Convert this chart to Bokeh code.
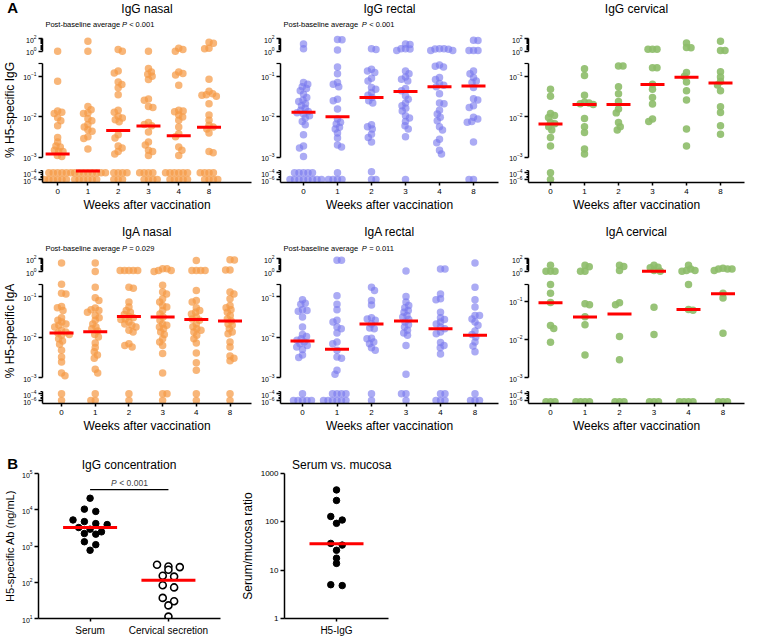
import numpy as np
from bokeh.plotting import figure
from bokeh.layouts import row, column
from bokeh.models import Range1d, FixedTicker, Label, PrintfTickFormatter, LogTickFormatter
from bokeh.core.properties import value
from bokeh.embed import file_html
from bokeh.resources import INLINE

FONT = "Liberation Sans"
weeks = ["0", "1", "2", "3", "4", "8"]

# ---------------- data (% H5-specific, one list per week) ----------------
igg_nasal = [
    [1.0, 0.075, 0.014, 0.013, 0.012, 0.0095, 0.008, 0.006, 0.0031, 0.0024, 0.0019, 0.0018, 0.0015, 0.0014, 0.0014, 0.0011, 0.00105,
     1e-4, 1e-4, 1e-4, 1e-4, 1e-4, 1e-4, 1e-6, 1e-6, 1e-6, 1e-6, 1e-6, 1e-6],
    [42, 1.0, 0.018, 0.015, 0.0125, 0.012, 0.009, 0.008, 0.0065, 0.0056, 0.0048, 0.0044, 0.0032, 0.0029, 0.0016,
     1e-4, 1e-4, 1e-4, 1e-4, 1e-4, 1e-4, 1e-4, 1e-4, 1e-6, 1e-6, 1e-6, 1e-6, 1e-6, 1e-6],
    [1.9, 1.0, 0.135, 0.12, 0.072, 0.063, 0.052, 0.035, 0.0145, 0.013, 0.0103, 0.0094, 0.0085, 0.0075, 0.0036, 0.003, 0.0019, 0.0017, 0.0014, 0.0012,
     1e-4, 1e-4, 1e-4, 1e-4, 1e-6, 1e-6, 1e-6],
    [1.0, 0.155, 0.128, 0.112, 0.1, 0.083, 0.0275, 0.0255, 0.018, 0.017, 0.0072, 0.0065, 0.006, 0.0042, 0.0024, 0.002, 0.0015, 0.0014, 0.0011,
     1e-4, 1e-4, 1e-4, 1e-4, 1e-6, 1e-6, 1e-6, 1e-6],
    [3.0, 1.8, 1.0, 0.128, 0.117, 0.107, 0.06, 0.0145, 0.014, 0.0133, 0.011, 0.0099, 0.0082, 0.0056, 0.0038, 0.0032, 0.0018, 0.0015, 0.0011,
     1e-4, 1e-4, 1e-4, 1e-4, 1e-4, 1e-4, 1e-6, 1e-6, 1e-6, 1e-6, 1e-6],
    [29, 20, 3.0, 2.4, 0.084, 0.043, 0.037, 0.035, 0.034, 0.032, 0.021, 0.011, 0.0082, 0.0062, 0.0056, 0.005, 0.004, 0.0014, 0.0013,
     1e-4, 1e-4, 1e-4, 1e-4, 1e-6, 1e-6, 1e-6, 1e-6],
]
igg_nasal_median = [0.0012, 3.5e-4, 0.0046, 0.0059, 0.0034, 0.0055]

igg_rectal = [
    [15, 2.4, 0.07, 0.064, 0.055, 0.05, 0.044, 0.036, 0.03, 0.026, 0.024, 0.021, 0.0187, 0.0163, 0.0146, 0.0135, 0.0126, 0.0117, 0.0106,
     0.0093, 0.0077, 0.0064, 0.0036, 0.0019, 0.0017, 0.00104, 1e-4, 1e-4, 1e-4, 1e-4, 1e-4, 1e-6, 1e-6, 1e-6, 1e-6, 1e-6, 1e-6, 1e-6, 1e-6],
    [78, 70, 1.5, 0.17, 0.116, 0.07, 0.064, 0.055, 0.027, 0.025, 0.0155, 0.0088, 0.0073, 0.0066, 0.0055, 0.005, 0.004, 0.003, 0.002, 0.0018,
     1e-4, 1e-6, 1e-6, 1e-6, 1e-6],
    [2.4, 1.9, 0.15, 0.135, 0.125, 0.09, 0.077, 0.053, 0.048, 0.04, 0.034, 0.03, 0.025, 0.022, 0.0064, 0.0057, 0.005, 0.0037, 0.0031, 0.0024,
     2e-4, 1e-6, 1e-6],
    [15, 12, 2.4, 2.2, 2.6, 1.3, 0.135, 0.116, 0.096, 0.085, 0.077, 0.05, 0.044, 0.033, 0.027, 0.022, 0.0187, 0.0163, 0.014, 0.0106, 0.0093,
     0.0077, 0.006, 0.005, 0.0032, 1e-6],
    [2.4, 2.2, 2.6, 2.0, 1.3, 1.3, 0.19, 0.178, 0.17, 0.094, 0.083, 0.066, 0.06, 0.055, 0.037, 0.022, 0.021, 0.0146, 0.0117, 0.0097, 0.008,
     0.0057, 0.0047, 0.0028, 0.0023, 0.0015, 0.0012],
    [60, 55, 1.3, 1.3, 1.3, 0.135, 0.116, 0.094, 0.077, 0.07, 0.053, 0.028, 0.026, 0.0187, 0.017, 0.0097, 0.0088, 0.0077, 0.0073, 0.0024,
     1e-6, 1e-6],
]
igg_rectal_median = [0.013, 0.01, 0.03, 0.042, 0.055, 0.058]

igg_cervical = [
    [0.048, 0.032, 0.012, 0.0107, 0.0096, 0.0072, 0.0067, 0.0057, 0.0047, 0.0031, 0.0019, 1e-4, 1e-6],
    [0.154, 0.104, 0.034, 0.023, 0.022, 0.021, 0.02, 0.0091, 0.0057, 0.0041, 0.0016, 0.0012],
    [0.18, 0.18, 0.055, 0.037, 0.024, 0.0155, 0.0125, 0.0072, 0.0057, 0.0047],
    [2.0, 2.0, 2.0, 0.162, 0.162, 0.064, 0.048, 0.03, 0.0206, 0.0088, 0.0077],
    [22, 3.5, 4.0, 0.125, 0.1, 0.072, 0.044, 0.026, 0.005, 0.0019],
    [40, 1.25, 1.25, 0.13, 0.096, 0.074, 0.061, 0.044, 0.0176, 0.0128, 0.006, 0.0037],
]
igg_cervical_median = [0.0066, 0.02, 0.02, 0.063, 0.095, 0.068]

iga_nasal = [
    [21, 0.2, 0.12, 0.116, 0.057, 0.053, 0.045, 0.03, 0.026, 0.0233, 0.021, 0.0194, 0.0177, 0.0146, 0.0133, 0.0126, 0.0116, 0.011, 0.0091,
     0.008, 0.0066, 0.0047, 0.0032, 0.0024, 0.0013, 0.0011, 1e-4, 1e-6],
    [21, 1.0, 0.17, 0.093, 0.08, 0.052, 0.047, 0.045, 0.041, 0.034, 0.03, 0.026, 0.021, 0.0177, 0.016, 0.014, 0.0116, 0.01, 0.0071, 0.0055,
     0.0043, 0.0036, 0.003, 0.0016, 0.0013, 1e-4, 1e-6, 1e-6],
    [1.4, 1.4, 1.4, 1.4, 1.4, 0.17, 0.16, 0.073, 0.055, 0.045, 0.041, 0.036, 0.032, 0.03, 0.028, 0.027, 0.0233, 0.021, 0.0194, 0.0177,
     0.0146, 0.0133, 0.0068, 0.0062, 0.0057, 1e-4, 1e-6],
    [2.6, 2.6, 1.4, 1.4, 1.0, 0.19, 0.13, 0.116, 0.088, 0.073, 0.06, 0.055, 0.045, 0.037, 0.031, 0.026, 0.021, 0.0194, 0.0177, 0.016,
     0.0133, 0.0116, 0.0091, 0.0075, 0.0062, 0.0039, 0.0013, 1e-4, 1e-4, 1e-6],
    [55, 1.4, 1.4, 1.4, 1.4, 0.14, 0.08, 0.073, 0.053, 0.045, 0.041, 0.037, 0.031, 0.028, 0.026, 0.021, 0.018, 0.016, 0.0146, 0.0133,
     0.011, 0.0091, 0.0071, 0.004, 0.0023, 0.0015, 1e-4, 1e-6],
    [70, 65, 1.8, 1.8, 0.13, 0.116, 0.088, 0.06, 0.053, 0.047, 0.041, 0.034, 0.028, 0.025, 0.021, 0.0194, 0.016, 0.0133, 0.012, 0.0075,
     0.0057, 0.0034, 0.003, 0.0026, 1e-4, 1e-6],
]
iga_nasal_median = [0.0125, 0.0135, 0.032, 0.031, 0.027, 0.025]

iga_rectal = [
    [0.083, 0.068, 0.064, 0.047, 0.045, 0.043, 0.031, 0.0177, 0.0116, 0.0103, 0.0091, 0.0083, 0.0075, 0.0068, 0.0062, 0.0057, 0.0049,
     0.0036, 0.0031, 1e-4, 1e-6, 1e-6, 1e-6, 1e-6, 1e-6],
    [60, 60, 0.105, 0.064, 0.047, 0.026, 0.0233, 0.0177, 0.016, 0.0126, 0.0075, 0.0068, 0.0047, 0.0032, 0.003, 0.0015, 0.0012,
     1e-4, 1e-4, 1e-4, 1e-4, 1e-6, 1e-6, 1e-6, 1e-6, 1e-6, 1e-6],
    [0.17, 0.14, 0.08, 0.062, 0.03, 0.028, 0.026, 0.021, 0.0166, 0.016, 0.0093, 0.0091, 0.0075, 0.0068, 0.0054, 0.0047, 1e-4, 1e-6],
    [1.2, 0.1, 0.073, 0.06, 0.053, 0.045, 0.041, 0.034, 0.031, 0.027, 0.0233, 0.02, 0.0177, 0.0146, 0.0126, 0.011, 0.0062, 0.0012,
     1e-4, 1e-4, 1e-6],
    [2.4, 2.4, 0.116, 0.088, 0.083, 0.041, 0.03, 0.027, 0.0233, 0.021, 0.0177, 0.016, 0.0133, 0.0121, 0.0073, 0.0062, 0.0054, 0.0038,
     1e-4, 1e-4, 1e-6, 1e-6, 1e-6],
    [22, 0.17, 0.083, 0.055, 0.034, 0.034, 0.028, 0.0233, 0.0194, 0.014, 0.0116, 0.01, 0.0075, 0.006, 0.0043, 1e-4, 1e-6, 1e-6, 1e-6],
]
iga_rectal_median = [0.008, 0.005, 0.021, 0.025, 0.016, 0.011]

iga_cervical = [
    [10, 1.1, 1.1, 1.1, 0.27, 0.16, 0.092, 0.023, 0.019, 0.0084, 4e-7, 4e-7, 4e-7],
    [10, 5.6, 1.1, 1.1, 0.085, 0.08, 0.039, 0.024, 0.0039, 4e-7, 4e-7, 4e-7, 4e-7],
    [10, 6.3, 1.4, 0.09, 0.08, 0.0118, 0.0029, 4e-7, 4e-7, 4e-7],
    [10, 4.5, 4.0, 1.4, 1.1, 0.069, 0.0133, 4e-7, 4e-7, 4e-7],
    [10, 2.5, 1.4, 1.4, 1.1, 0.27, 0.06, 0.057, 4e-7, 4e-7, 4e-7, 4e-7],
    [3.2, 2.5, 2.5, 2.5, 1.4, 0.16, 0.12, 0.0144, 4e-7, 4e-7, 4e-7],
]
iga_cervical_median = [0.09, 0.038, 0.046, 1.1, 0.06, 0.155]

# Panel B
conc_groups = ["Serum", "Cervical secretion"]
serum_igg = [20800, 10400, 9000, 5230, 4710, 4150, 3900, 3230, 2910, 2460, 2210, 2120, 1310, 1090, 762]
cervical_igg = [303, 273, 262, 221, 151, 143, 83, 72, 37, 30, 23, 11.3]
conc_median = [3230, 113]
ratio_group = ["H5-IgG"]
ratio = [457, 277, 129, 109, 93, 35.8, 33, 25.8, 17.7, 13.8, 5.0, 4.8]
ratio_median = [35]

ORANGE, BLUE, GREEN = "#F59A45", "#7878EE", "#8DBC69"
RED = "#FF0000"

# ---------------- geometry (layout pixels, origin at top of the layout) ----------------
ROWS = [
    dict(top=(0, 30, 56), top_b=(38.3, 50.7), main=(56, 163), main_ax=(75.8, 156.8, 63),
         bot=(163, 182, 218), bot_b=(170, 182), title_y=8, sub_y=24),
    dict(top=(218, 250, 277), top_b=(258.3, 271), main=(277, 384), main_ax=(296, 377, 284),
         bot=(384, 403, 440), bot_b=(391, 403), title_y=231, sub_y=248),
]
# page x: (canvas left, canvas right, frame left, frame right)
COLS = [(8, 262, 45, 259), (262, 508, 288, 506), (508, 756, 536, 752)]


def seg_map(v1, y1, v2, y2):
    l1, l2 = np.log10(v1), np.log10(v2)
    k = (y2 - y1) / (l2 - l1)

    def fwd(v):
        return y1 + (np.log10(v) - l1) * k

    def inv(y):
        return 10 ** (l1 + (y - y1) / k)
    return fwd, inv


def seg_of(v):
    if v >= 0.5:
        return "top"
    if v >= 6e-4:
        return "main"
    return "bot"


def swarm(pys, min_d, step=0.25, max_off=30):
    n = len(pys)
    order = sorted(range(n), key=lambda i: (pys[i], i))
    placed, offs, flip = [], [0.0] * n, 1
    for i in order:
        y = pys[i]
        near = [(a, b) for a, b in placed if abs(b - y) < min_d]
        k, ok = 0, None
        while ok is None and k * step <= max_off:
            cands = [0.0] if k == 0 else [flip * k * step, -flip * k * step]
            for c in cands:
                if all((c - a) ** 2 + (y - b) ** 2 >= min_d ** 2 for a, b in near):
                    ok = c
                    break
            k += 1
        ok = 0.0 if ok is None else ok
        if ok != 0:
            flip = -flip
        offs[i] = ok
        placed.append((ok, y))
    return offs


def rows_layout(pys, spacing, bin_h):
    n = len(pys)
    order = sorted(range(n), key=lambda i: pys[i])
    groups, cur, start = [], [], None
    for i in order:
        if cur and pys[i] - start >= bin_h:
            groups.append(cur)
            cur = []
        if not cur:
            start = pys[i]
        cur.append(i)
    if cur:
        groups.append(cur)
    offs = [0.0] * n
    for g in groups:
        m = len(g)
        for j, i in enumerate(g):
            offs[i] = (j - (m - 1) / 2) * spacing
    return offs


def new_fig(width, height, xr, yr, mbl, mbr, mbt, mbb, x_axis=True):
    p = figure(width=width, height=height, x_range=Range1d(*xr), y_range=Range1d(*yr),
               y_axis_type="log", x_axis_location="below" if x_axis else None,
               output_backend="svg", toolbar_location=None, title=None,
               min_border_left=mbl, min_border_right=mbr, min_border_top=mbt, min_border_bottom=mbb)
    p.outline_line_color = None
    p.xgrid.visible = False
    p.ygrid.visible = False
    p.background_fill_color = "white"
    p.border_fill_color = "white"
    return p


def style_axis(ax, size="7px"):
    ax.axis_line_width = 1.5
    ax.axis_line_color = "black"
    ax.major_tick_line_width = 1.5
    ax.major_tick_line_color = "black"
    ax.minor_tick_line_width = 1.2
    ax.minor_tick_line_color = "black"
    ax.major_tick_in = 0
    ax.major_tick_out = 4
    ax.minor_tick_in = 0
    ax.minor_tick_out = 2
    ax.major_label_text_font = FONT
    ax.major_label_text_font_size = size
    ax.major_label_text_color = "black"
    ax.major_label_standoff = 2
    ax.axis_label_text_font = FONT
    ax.axis_label_text_font_style = "normal"
    ax.axis_label_text_color = "black"
    ax.axis_label_standoff = 3


def add_text(p, x, y, text, size, align="left", style="normal"):
    # text drawn at overlay level so it may sit outside the plotting frame
    p.text(x=[x], y=[y], text=[text], text_font=value(FONT), text_font_size=value(size),
           text_font_style=value(style), text_align=value(align), text_baseline=value("middle"),
           text_color="black", level="overlay")


def make_panel(cfg):
    rg = ROWS[cfg["row"]]
    left, right, fl, fr = COLS[cfg["col"]]
    W, mbl, mbr = right - left, fl - left, right - fr
    sp, pos0 = cfg["sp"], cfg["pos0"]
    xr = (-(pos0 - fl) / sp, (fr - pos0) / sp)

    def xd(page_x):
        return xr[0] + (page_x - fl) / sp

    top_fwd, top_inv = seg_map(100, rg["top_b"][0], 1, rg["top_b"][1])
    m1, m3, mtop = cfg.get("main_ax", rg["main_ax"])
    main_fwd, main_inv = seg_map(0.1, m1, 1e-3, m3)
    main_cap = main_inv(mtop)
    bot_fwd, bot_inv = seg_map(10 ** -3.3, rg["bot_b"][0], 10 ** -6.9, rg["bot_b"][1])
    fwd = {"top": top_fwd, "main": main_fwd, "bot": bot_fwd}

    c0, f0, f1 = rg["top"]
    top = new_fig(W, f1 - c0, xr, (top_inv(f1), top_inv(f0)), mbl, mbr, f0 - c0, 0, x_axis=False)
    a = top.yaxis[0]
    style_axis(a)
    a.ticker = FixedTicker(ticks=[1, 100], minor_ticks=[2, 3, 4, 5, 6, 7, 8, 9, 20, 30, 40, 50, 60, 70, 80, 90])
    a.formatter = LogTickFormatter()
    a.bounds = (1, 100)

    g0, g1 = rg["main"]
    main = new_fig(W, g1 - g0, xr, (main_inv(g1), main_inv(g0)), mbl, mbr, 0, 0, x_axis=False)
    a = main.yaxis[0]
    style_axis(a)
    a.ticker = FixedTicker(ticks=[1e-3, 1e-2, 1e-1], minor_ticks=[main_cap * 0.995])
    a.minor_tick_out = 4
    a.formatter = LogTickFormatter()
    a.bounds = (1e-3, main_cap)
    if cfg.get("ylabel"):
        a.axis_label = cfg["ylabel"]
        a.axis_label_text_font_size = "12px"

    h0, h1, h2 = rg["bot"]
    bcap = 10 ** -3.3
    bot = new_fig(W, h2 - h0, xr, (bot_inv(h1), bot_inv(h0)), mbl, mbr, 0, h2 - h1, x_axis=True)
    a = bot.yaxis[0]
    style_axis(a)
    a.ticker = FixedTicker(ticks=[1e-6, 1e-4], minor_ticks=[bcap * 0.99, 1e-5, 3e-6, 3e-5])
    a.formatter = LogTickFormatter()
    a.bounds = (bot_inv(h1), bcap)
    xa = bot.xaxis[0]
    style_axis(xa, "8px")
    xa.ticker = FixedTicker(ticks=list(range(len(weeks))))
    xa.major_label_overrides = {i: w for i, w in enumerate(weeks)}
    xa.major_tick_out = 3
    xa.major_label_standoff = 3
    xa.axis_label = "Weeks after vaccination"
    xa.axis_label_text_font_size = "12px"
    xa.axis_label_standoff = 1

    figs = {"top": top, "main": main, "bot": bot}
    xs = {k: [] for k in figs}
    ys = {k: [] for k in figs}
    for i, vals in enumerate(cfg["data"]):
        segs = [seg_of(v) for v in vals]
        pys = [fwd[s](v) for s, v in zip(segs, vals)]
        offs = swarm(pys, 4.4)
        for v, s, o in zip(vals, segs, offs):
            xs[s].append(i + o / sp)
            ys[s].append(v)
    mx = {k: [] for k in figs}
    my = {k: [] for k in figs}
    for i, m in enumerate(cfg["med"]):
        s = seg_of(m)
        mx[s].append(i)
        my[s].append(m)
    for k, p in figs.items():
        p.scatter(xs[k], ys[k], size=7.5, fill_color=cfg["color"], fill_alpha=cfg["alpha"], line_color=None)
        p.scatter(mx[k], my[k], marker="dash", size=24, line_color=RED, line_width=3)

    add_text(top, xd((fl + fr) / 2), top_inv(rg["title_y"]), cfg["title"], "12px", align="center")
    if cfg.get("pval"):
        ysub = top_inv(rg["sub_y"])
        add_text(top, xd(fl + 3), ysub, "Post-baseline average", "7.5px")
        add_text(top, xd(fl + 3 + 78.3), ysub, "P", "7.5px", style="italic")
        add_text(top, xd(fl + 3 + 78.3 + 5.2 + 2.2), ysub, cfg["pval"], "7.5px")
    if cfg.get("letter"):
        add_text(top, xd(9), top_inv(rg["title_y"] - 1), cfg["letter"], "15px", style="bold")
    return column(top, main, bot)


panels = [
    dict(data=igg_nasal, med=igg_nasal_median, color=ORANGE, alpha=0.72, title="IgG nasal", pval="< 0.001",
         row=0, col=0, pos0=60.5, sp=31, ylabel="% H5-specific IgG", letter="A"),
    dict(data=igg_rectal, med=igg_rectal_median, color=BLUE, alpha=0.62, title="IgG rectal", pval="< 0.001",
         row=0, col=1, pos0=311, sp=34),
    dict(data=igg_cervical, med=igg_cervical_median, color=GREEN, alpha=0.9, title="IgG cervical",
         row=0, col=2, pos0=558, sp=34),
    dict(data=iga_nasal, med=iga_nasal_median, color=ORANGE, alpha=0.72, title="IgA nasal", pval="= 0.029",
         row=1, col=0, pos0=64.5, sp=34.5, ylabel="% H5-specific IgA"),
    dict(data=iga_rectal, med=iga_rectal_median, color=BLUE, alpha=0.62, title="IgA rectal", pval="= 0.011",
         row=1, col=1, pos0=310, sp=34.5),
    dict(data=iga_cervical, med=iga_cervical_median, color=GREEN, alpha=0.9, title="IgA cervical",
         row=1, col=2, pos0=558, sp=34.5, main_ax=(300.5, 377, 284)),
]
cols_built = [make_panel(c) for c in panels]
rowA1 = row(*cols_built[:3])
rowA2 = row(*cols_built[3:])

# ---------------- Panel B ----------------
B_TOP, B_F0, B_F1, B_BOT = 440, 473, 619, 638


def b_fig(left, right, fl, fr, xr, yr):
    p = new_fig(right - left, B_BOT - B_TOP, xr, yr, fl - left, right - fr, B_F0 - B_TOP, B_BOT - B_F1)
    style_axis(p.yaxis[0])
    style_axis(p.xaxis[0], "10px")
    p.xaxis[0].major_tick_out = 3
    p.xaxis[0].major_label_standoff = 3
    return p


# B1: IgG concentration
b1_sp = 80.5
b1_fl = 41
b1_xr = (-(94 - b1_fl) / b1_sp, (228 - 94) / b1_sp)
b1 = b_fig(8, 245, b1_fl, 228, b1_xr, (10, 1e5))
ya = b1.yaxis[0]
ya.ticker = FixedTicker(ticks=[10, 100, 1000, 1e4, 1e5])
ya.formatter = LogTickFormatter()
ya.axis_label = "H5-specific Ab (ng/mL)"
ya.axis_label_text_font_size = "11px"
b1.xaxis[0].ticker = FixedTicker(ticks=[0, 1])
b1.xaxis[0].major_label_overrides = {0: conc_groups[0], 1: conc_groups[1]}
b1_fwd, b1_inv = seg_map(1e5, B_F0, 10, B_F1)
for gi, vals in enumerate([serum_igg, cervical_igg]):
    offs = rows_layout([b1_fwd(v) for v in vals], 11.7, 5)
    xs = [gi + o / b1_sp for o in offs]
    if gi == 0:
        b1.scatter(xs, vals, size=6.5, fill_color="black", line_color="black")
    else:
        b1.scatter(xs, vals, size=7, fill_color="white", line_color="black", line_width=1.6)
b1.scatter([0, 1], conc_median, marker="dash", size=54, line_color=RED, line_width=3)
sig_level = 3.6e4
sig_text = 5.6e4
b1.segment(x0=[0], y0=[sig_level], x1=[1], y1=[sig_level], line_color="black", line_width=1.2)
b1.add_layout(Label(x=0.5, y=sig_text, x_offset=-18.3, text="P", text_font=FONT, text_font_size="8.5px",
                    text_font_style="italic", text_baseline="middle", text_align="left"))
b1.add_layout(Label(x=0.5, y=sig_text, x_offset=-10.0, text="< 0.001", text_font=FONT, text_font_size="8.5px",
                    text_baseline="middle", text_align="left"))


def b1x(page_x):
    return b1_xr[0] + (page_x - b1_fl) / b1_sp


add_text(b1, b1x(134), b1_inv(464), "IgG concentration", "12px", align="center")
add_text(b1, b1x(9), b1_inv(463), "B", "15px", style="bold")

# B2: Serum vs mucosa
b2_fl, b2_fr = 287, 396
b2 = b_fig(245, 420, b2_fl, b2_fr, (-1, 1), (1, 1000))
ya = b2.yaxis[0]
ya.ticker = FixedTicker(ticks=[1, 10, 100, 1000])
ya.formatter = PrintfTickFormatter(format="%d")
ya.major_label_text_font_size = "8px"
ya.axis_label = "Serum/mucosa ratio"
ya.axis_label_text_font_size = "12px"
b2.xaxis[0].ticker = FixedTicker(ticks=[0])
b2.xaxis[0].major_label_overrides = {0: ratio_group[0]}
b2_fwd, b2_inv = seg_map(1000, B_F0, 1, B_F1)
b2_ppu = (b2_fr - b2_fl) / 2
offs = rows_layout([b2_fwd(v) for v in ratio], 12, 5)
b2.scatter([o / b2_ppu for o in offs], ratio, size=6.5, fill_color="black", line_color="black")
b2.scatter([0], ratio_median, marker="dash", size=54, line_color=RED, line_width=3)
add_text(b2, -1 + (347 - b2_fl) / b2_ppu, b2_inv(464), "Serum vs. mucosa", "12px", align="center")

layout = column(rowA1, rowA2, row(b1, b2))
open("out.html", "w").write(file_html(layout, INLINE, title="H5-specific antibodies"))
